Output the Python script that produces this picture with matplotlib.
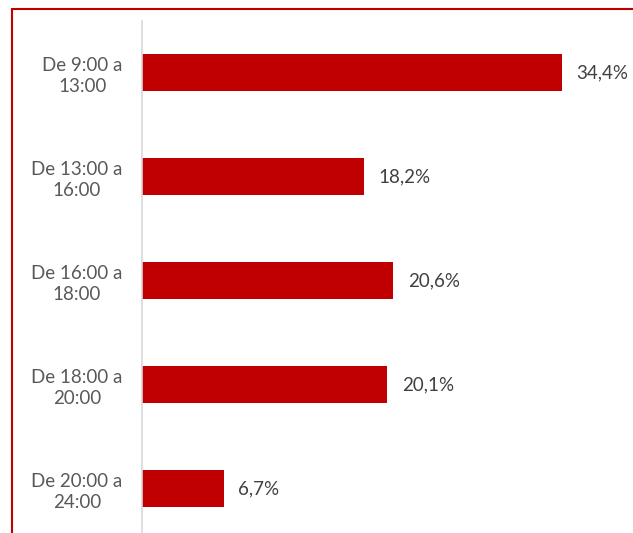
import matplotlib
matplotlib.use('Agg')
import matplotlib.pyplot as plt
from matplotlib.patches import Rectangle

categorias = ['De 9:00 a\n13:00', 'De 13:00 a\n16:00', 'De 16:00 a\n18:00',
              'De 18:00 a\n20:00', 'De 20:00 a\n24:00']
valores = [34.4, 18.2, 20.6, 20.1, 6.7]
etiquetas = ['34,4%', '18,2%', '20,6%', '20,1%', '6,7%']

plt.rcParams['font.family'] = ['Lato', 'DejaVu Sans']

fig = plt.figure(figsize=(6.33, 5.33), dpi=100)
ax = fig.add_axes([142 / 633, -0.0141, 0.7714, 0.9756])

pos = list(range(len(categorias)))
ax.barh(pos, valores, height=0.355, color='#C00000')
for p, v, t in zip(pos, valores, etiquetas):
    ax.text(v + 1.2, p, t, va='center', ha='left', fontsize=13.5, color='#404040')

ax.set_xlim(0, 40)
ax.set_ylim(4.5, -0.5)
ax.set_yticks(pos)
ax.set_yticklabels(categorias, fontsize=13.5, color='#595959',
                   multialignment='center', linespacing=1.25)
ax.tick_params(axis='y', length=0, pad=14)
ax.set_xticks([])
for s in ['top', 'right', 'bottom']:
    ax.spines[s].set_visible(False)
ax.spines['left'].set_color('#D9D9D9')
ax.spines['left'].set_linewidth(1.2)

# marco rojo (recortado a derecha y abajo)
fig.patches.append(Rectangle((11.5 / 633, -0.05), 1.2, 1.05 - 9.5 / 533,
                             transform=fig.transFigure, fill=False,
                             edgecolor='#C00000', linewidth=1.5))

fig.savefig('out.png', dpi=100)
